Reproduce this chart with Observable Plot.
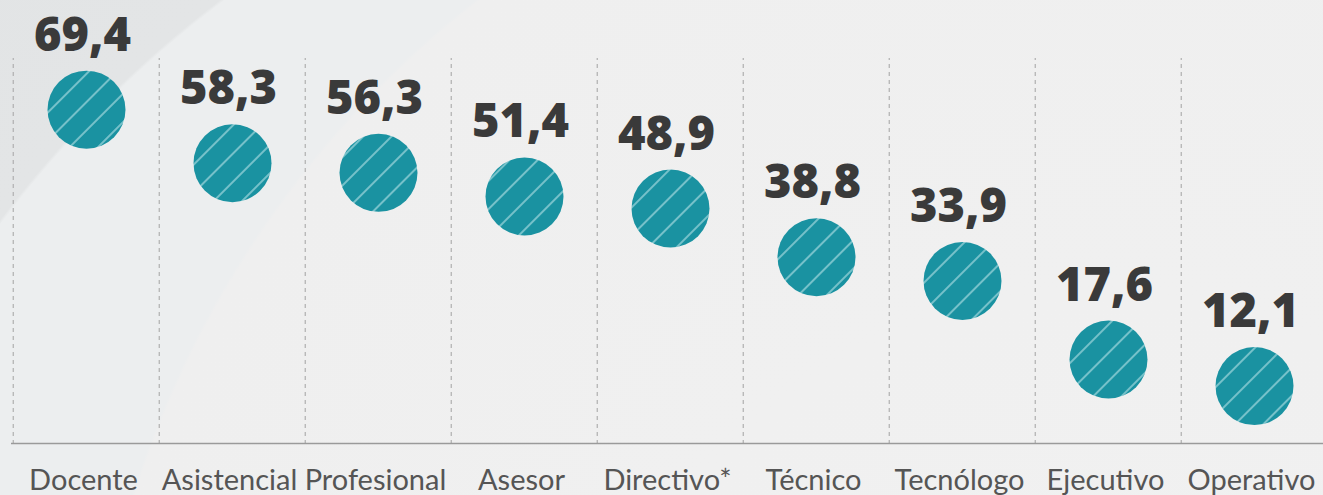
<!DOCTYPE html>
<html>
<head>
<meta charset="utf-8">
<script src="https://cdn.jsdelivr.net/npm/d3@7"></script>
<script src="https://cdn.jsdelivr.net/npm/@observablehq/plot@0.6"></script>
<style>
  html, body { margin: 0; padding: 0; width: 1323px; height: 495px; overflow: hidden; }
  body {
    background:
      radial-gradient(circle at 1100px 800px, #f1f1f1 0, #efefef 1012px, rgba(239,240,240,0) 1015px),
      radial-gradient(circle at 900px 900px, #eceeef 0, #eceeef 1125px, #e3e5e6 1128px, #e2e4e5 1400px);
  }
  #chart svg { display: block; background: transparent; }
</style>
</head>
<body>
<div id="chart"></div>
<script>
const categories = ["Docente", "Asistencial", "Profesional", "Asesor", "Directivo*", "Técnico", "Tecnólogo", "Ejecutivo", "Operativo"];
const values = [69.4, 58.3, 56.3, 51.4, 48.9, 38.8, 33.9, 17.6, 12.1];
const labels = ["69,4", "58,3", "56,3", "51,4", "48,9", "38,8", "33,9", "17,6", "12,1"];

const data = categories.map((c, i) => ({cat: c, value: values[i], label: labels[i]}));

const bandLeft = 11, bandRight = 1329.5;
const bw = (bandRight - bandLeft) / categories.length;

const defs = () => {
  const ns = "http://www.w3.org/2000/svg";
  const g = document.createElementNS(ns, "defs");
  g.innerHTML = `
    <pattern id="hatch" patternUnits="userSpaceOnUse" width="20" height="20" patternTransform="rotate(45)">
      <rect width="20" height="20" fill="#1a92a1"></rect>
      <line x1="1" y1="0" x2="1" y2="20" stroke="#8dcdd4" stroke-width="1.6"></line>
    </pattern>`;
  return g;
};

const chart = Plot.plot({
  width: 1323,
  height: 495,
  marginLeft: 11,
  marginRight: 0,
  marginTop: 0,
  marginBottom: 51,
  style: {background: "transparent", color: "#555", overflow: "visible"},
  x: {type: "band", domain: categories, range: [bandLeft, bandRight], padding: 0, label: null},
  y: {domain: [0, 80], range: [444, 58], axis: null},
  marks: [
    defs,
    Plot.ruleX(categories, {x: d => d, dx: -bw / 2, y1: 0, y2: 80, stroke: "#b0b0b0", strokeWidth: 1.2, strokeDasharray: "4,4"}),
    Plot.ruleY([0], {stroke: "#9a9a9a", strokeWidth: 1.6, dy: -1}),
    Plot.dot(data, {x: "cat", y: "value", r: 39, fill: "url(#hatch)", stroke: "none"}),
    Plot.text(data, {x: "cat", y: "value", text: "label", lineAnchor: "bottom", dy: -59, dx: -4, fontSize: 47, fontWeight: 800, fontFamily: "Open Sans, Noto Sans, sans-serif", fill: "#3a3a3a"}),
    Plot.axisX({tickSize: 0, tickPadding: 25, dx: -3, fontSize: 29, fontFamily: "Lato, sans-serif", fill: "#555", label: null})
  ]
});
document.getElementById("chart").append(chart);
</script>
</body>
</html>
